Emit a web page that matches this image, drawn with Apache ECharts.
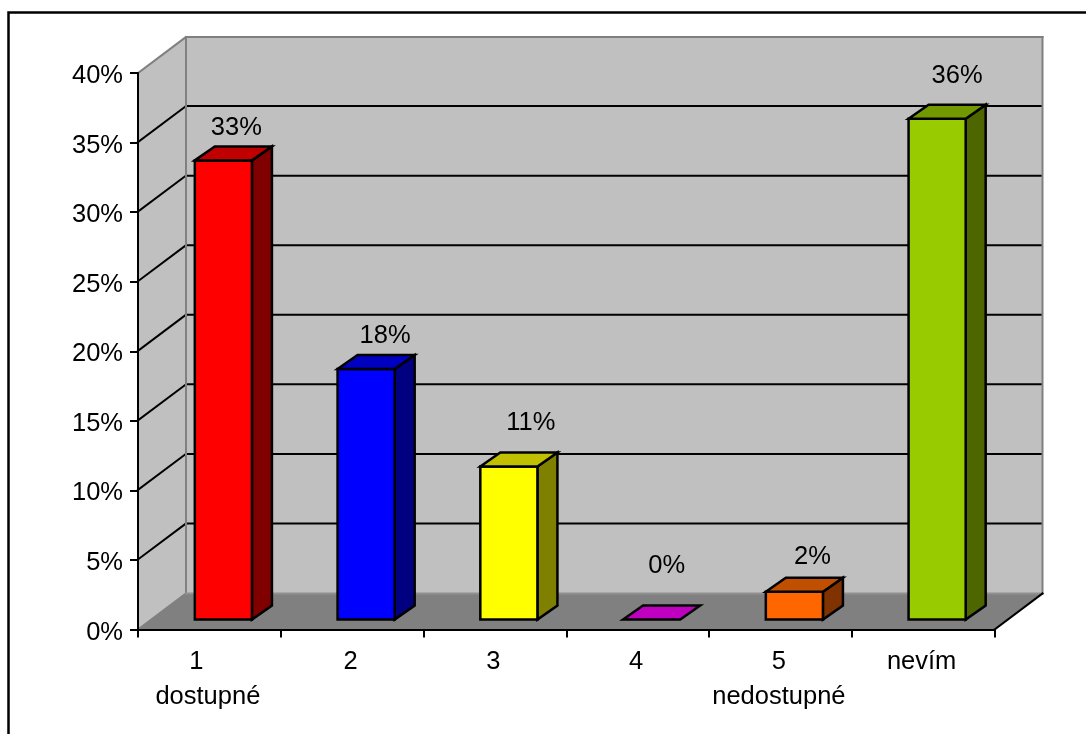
<!DOCTYPE html>
<html>
<head>
<meta charset="utf-8">
<style>html,body{margin:0;padding:0;background:#fff}#chart{width:1086px;height:734px}</style>
<script src="https://cdn.jsdelivr.net/npm/echarts@6/dist/echarts.min.js"></script>
</head>
<body>
<div id="chart"></div>
<script>
// Survey answers, share of respondents in percent
const categories = ['1', '2', '3', '4', '5', 'nevím'];
const captions = ['dostupné', '', '', '', 'nedostupné', ''];
const values = [33, 18, 11, 0, 2, 36];
const frontColors = ['#ff0000', '#0000ff', '#ffff00', '#cc00cc', '#ff6600', '#99cc00'];
const topColors = ['#c00000', '#0000c0', '#c0c000', '#c000c0', '#c05000', '#739900'];
const sideColors = ['#800000', '#000080', '#808000', '#800080', '#803300', '#4d6600'];
const yTicks = [0, 5, 10, 15, 20, 25, 30, 35, 40];

// Pseudo-3D projection of the chart box and of the bars standing inside it
const BOX_DX = 48, BOX_DY = -36;
const BAR_INSET_DX = 14, BAR_INSET_DY = -10;
const BAR_DX = 20, BAR_DY = -14;
const BAR_BAND = 0.4;
// Hand placement of each value label relative to the bar's top front edge
const labelShift = [[13, -33], [19, -34], [22, -44], [15, -54], [18, -35], [20, -43]];

const FONT = '"Liberation Sans", Arial, sans-serif';
const FONT_SIZE = 25.5;
const OUTLINE = 2.5;

function poly(points, fill, stroke, lineWidth) {
  return {
    type: 'polygon',
    shape: { points },
    style: { fill, stroke: stroke || 'none', lineWidth: lineWidth || 0, lineJoin: 'miter' }
  };
}
function seg(x1, y1, x2, y2, stroke, lineWidth) {
  return {
    type: 'line',
    shape: { x1, y1, x2, y2 },
    style: { stroke, lineWidth, lineCap: 'square' }
  };
}

// Side wall, back wall, floor and the grid lines that wrap around them
function renderBox(params, api) {
  const c = params.coordSys;
  const l = c.x, r = c.x + c.width, t = c.y, b = c.y + c.height;
  const dx = BOX_DX, dy = BOX_DY;
  const children = [
    poly([[l + dx, t + dy], [r + dx, t + dy], [r + dx, b + dy], [l + dx, b + dy]], '#c0c0c0'),
    poly([[l, t], [l + dx, t + dy], [l + dx, b + dy], [l, b]], '#c0c0c0'),
    poly([[l, b], [l + dx, b + dy], [r + dx, b + dy], [r, b]], '#808080')
  ];
  yTicks.forEach(function (tick) {
    if (tick === 0 || tick === yTicks[yTicks.length - 1]) return;
    const y = api.coord([0, tick])[1] - 0.5;
    children.push(seg(l, y, l + dx, y + dy, '#000', 2));
    children.push(seg(l + dx, y + dy, r + dx - 1, y + dy, '#000', 2));
  });
  children.push(
    seg(l, t, l + dx, t + dy, '#808080', 2),
    seg(l + dx, t + dy, r + dx, t + dy, '#808080', 2),
    seg(r + dx, t + dy, r + dx, b + dy, '#808080', 2),
    seg(l + dx, t + dy, l + dx, b + dy, '#808080', 2),
    seg(l, b, l + dx, b + dy, '#808080', 2),
    seg(l + dx, b + dy, r + dx, b + dy, '#909090', 2),
    seg(r, b, r + dx, b + dy, '#000', 2)
  );
  return { type: 'group', children };
}

function renderBar(params, api) {
  const i = api.value(0);
  const top = api.coord([i, api.value(1)]);
  const base = api.coord([i, 0]);
  const w = api.size([1, 0])[0] * BAR_BAND;
  const x0 = top[0] - w / 2 + BAR_INSET_DX, x1 = x0 + w;
  const yT = top[1] + BAR_INSET_DY, yB = base[1] + BAR_INSET_DY;
  const children = [];
  if (yB - yT > 0.5) {
    children.push(poly([[x1, yT], [x1 + BAR_DX, yT + BAR_DY], [x1 + BAR_DX, yB + BAR_DY], [x1, yB]], sideColors[i], '#000', OUTLINE));
    children.push(poly([[x0, yT], [x1, yT], [x1, yB], [x0, yB]], frontColors[i], '#000', OUTLINE));
  }
  children.push(poly([[x0, yT], [x0 + BAR_DX, yT + BAR_DY], [x1 + BAR_DX, yT + BAR_DY], [x1, yT]], topColors[i], '#000', OUTLINE));
  children.push({
    type: 'text',
    style: {
      text: api.value(1) + '%',
      x: (x0 + x1) / 2 + labelShift[i][0],
      y: yT + labelShift[i][1] + 0.5,
      align: 'center',
      verticalAlign: 'middle',
      font: FONT_SIZE + 'px ' + FONT,
      fill: '#000'
    }
  });
  return { type: 'group', children };
}

const chart = echarts.init(document.getElementById('chart'), null, { renderer: 'canvas' });
chart.setOption({
  animation: false,
  backgroundColor: '#fff',
  textStyle: { fontFamily: FONT },
  graphic: [{
    type: 'rect',
    silent: true,
    z: -1,
    shape: { x: 8.5, y: 12.5, width: 1300, height: 1000 },
    style: { fill: 'none', stroke: '#000', lineWidth: 2.5 }
  }],
  grid: { left: 138, top: 73, width: 856.5, height: 556.5 },
  xAxis: {
    type: 'category',
    data: categories,
    z: 5,
    axisLine: { lineStyle: { color: '#000', width: 2 } },
    axisTick: { show: true, length: 8, lineStyle: { color: '#000', width: 2 } },
    axisLabel: {
      interval: 0,
      margin: 15,
      color: '#000',
      formatter: function (name, index) {
        const head = index === 0 ? '{offset|' + name + '}' : '{line|' + name + '}';
        return captions[index] ? head + '\n{line|' + captions[index] + '}' : head;
      },
      rich: {
        line: { fontSize: FONT_SIZE, fontFamily: FONT, color: '#000', lineHeight: 35, padding: [0, 3, 0, 0] },
        offset: { fontSize: FONT_SIZE, fontFamily: FONT, color: '#000', lineHeight: 35, padding: [0, 26, 0, 0] }
      }
    }
  },
  yAxis: {
    type: 'value',
    min: 0,
    max: 40,
    interval: 5,
    z: 5,
    splitLine: { show: false },
    axisLine: { show: true, lineStyle: { color: '#000', width: 2 } },
    axisTick: { show: true, length: 8, lineStyle: { color: '#000', width: 2 } },
    axisLabel: {
      margin: 15,
      color: '#000',
      formatter: function (v) { return '{tick|' + v + '%}'; },
      rich: {
        tick: { fontSize: FONT_SIZE, fontFamily: FONT, color: '#000', padding: [6, 0, 0, 0] }
      }
    }
  },
  series: [
    {
      type: 'custom',
      name: 'box',
      coordinateSystem: 'cartesian2d',
      clip: false,
      silent: true,
      z: 1,
      data: [[0, 0]],
      renderItem: renderBox
    },
    {
      type: 'custom',
      name: 'podíl',
      coordinateSystem: 'cartesian2d',
      clip: false,
      z: 3,
      encode: { x: 0, y: 1 },
      data: values.map(function (v, i) { return [i, v]; }),
      renderItem: renderBar
    }
  ]
});
</script>
</body>
</html>
